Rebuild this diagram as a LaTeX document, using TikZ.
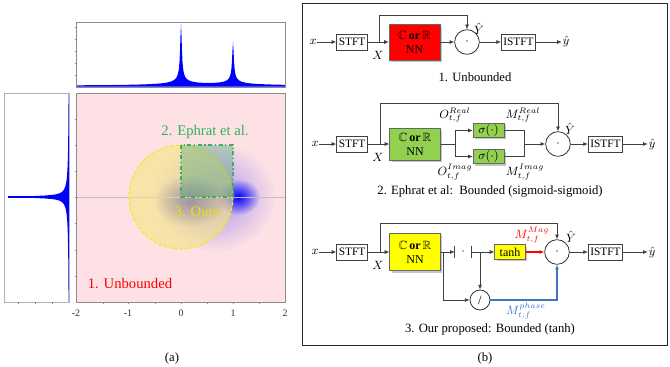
\documentclass[tikz,border=0pt]{standalone}
\usepackage{amssymb}
\usepackage{fontspec}
\setmainfont{Liberation Serif}
\usetikzlibrary{arrows.meta, positioning, calc, shadows, fadings}

\tikzfading[name=fuzzyblob, inner color=transparent!0, outer color=transparent!100]

\begin{document}
\begin{tikzpicture}[
    x=0.75pt, y=-0.75pt,
    >={Latex[length=3.5pt,width=3pt]},
    font=\fontsize{9.5}{11}\selectfont
]
\useasboundingbox (0,0) rectangle (670,367);

\definecolor{plotpink}{HTML}{FDE1E5}
\definecolor{oursfill}{HTML}{F5E682}
\definecolor{oursline}{HTML}{F2EA10}
\definecolor{ourstext}{HTML}{F0E010}
\definecolor{ephfill}{HTML}{3CA070}
\definecolor{ephline}{HTML}{3DB05A}
\definecolor{ephtext}{HTML}{2EB35A}
\definecolor{nnred}{HTML}{FF0000}
\definecolor{nngreen}{HTML}{92D050}
\definecolor{nnyellow}{HTML}{FFFF00}
\definecolor{magred}{HTML}{FF0000}
\definecolor{phaseblue}{HTML}{4472C4}
\definecolor{wire}{HTML}{404040}

\tikzset{
    frame/.style={draw=black!45, line width=0.5pt},
    tick/.style={draw=black!45, line width=0.4pt},
    ticklbl/.style={font=\fontsize{7.5}{9}\selectfont, text=black!80, inner sep=0pt},
    plotlbl/.style={font=\fontsize{11}{13}\selectfont, inner sep=0pt},
    blockbox/.style={
        rectangle,
        draw=black!75,
        line width=0.6pt,
        fill=white,
        font=\fontsize{8.5}{10}\selectfont,
        inner xsep=1.5pt,
        inner ysep=0pt,
        minimum height=12pt
    },
    nnbox/.style={
        rectangle,
        draw=black!60,
        line width=0.4pt,
        minimum width=38pt,
        minimum height=26pt,
        align=center,
        font=\fontsize{9}{10.5}\selectfont,
        drop shadow={shadow xshift=1.5pt, shadow yshift=-1.5pt, opacity=0.45}
    },
    actbox/.style={nnbox, minimum width=23pt, minimum height=10.5pt, inner sep=0pt},
    absbox/.style={minimum width=12pt, minimum height=9pt, inner sep=0pt},
    mult/.style={circle, draw=black!80, line width=0.6pt, minimum size=18.5pt, inner sep=0pt},
    arr/.style={->, draw=wire, line width=0.6pt},
    wireline/.style={draw=wire, line width=0.6pt},
    mlbl/.style={inner sep=0.5pt, font=\fontsize{9}{10}\selectfont}
}

% (a) top marginal
\fill[blue] (76,86) -- plot[domain=76:285, samples=419]
    (\x, {86 - 49/(1+min(abs(\x-181),100)^2) - 12*4/(4+abs(\x-181))
             - 33/(1+min(abs(\x-233),100)^2) - 10*4/(4+abs(\x-233))}) -- (285,86) -- cycle;
\draw[blue!70, line width=0.4pt] (76,86) -- (285,86);
\draw[frame] (76,22) rectangle (285,87);
\foreach \y in {27,39,51,63,75}
    \draw[tick] (74.5,\y) -- (76,\y);

% (a) left marginal
\fill[blue] (69,93) -- plot[domain=93:302, samples=419]
    ({69 - 49/(1+min(abs(\x-197),100)^2) - 12*4/(4+abs(\x-197))}, \x) -- (69,302) -- cycle;
\draw[blue, line width=0.9pt] (8,197) -- (69,197);
\draw[frame, draw=black!30] (4,93) rectangle (69,302);
\foreach \x in {18,35,52}
    \draw[tick] (\x,302) -- (\x,303.5);

% (a) main plane
\fill[plotpink] (76,93) rectangle (285,302);
\begin{scope}
    \clip (76,93) rectangle (285,302);
    \fill[blue, opacity=0.35, path fading=fuzzyblob] (214,197) ellipse [x radius=62, y radius=55];
    \fill[blue!80!black, opacity=0.85, path fading=fuzzyblob] (190,201) ellipse [x radius=36, y radius=26];
    \fill[blue, opacity=1, path fading=fuzzyblob] (238,197) ellipse [x radius=22, y radius=18];
\end{scope}
\draw[black!25, line width=0.3pt] (76,197) -- (285,197);

\fill[oursfill, opacity=0.6] (181,197) circle [radius=52];
\draw[oursline, line width=0.8pt, dash pattern=on 2.5pt off 1.5pt] (181,197) circle [radius=52];
\fill[ephfill, opacity=0.35] (181,145) rectangle (233,197);
\draw[ephline, line width=0.8pt, dash dot] (181,145) rectangle (233,197);

\draw[frame] (76,93) rectangle (285,302);
\foreach \y in {119,145,171,197,223,250,276}
    \draw[tick] (74.5,\y) -- (76,\y);
\foreach \x in {103,128,155,181,207,233,259}
    \draw[tick] (\x,302) -- (\x,303.5);
\foreach \v/\px in {-2/76,-1/128,0/181,1/233,2/285}
    \node[ticklbl] at (\px,313) {\v};

\node[plotlbl, text=ephtext] (lbleph) at (205,132) {2. Ephrat et al.};
\node[plotlbl, text=ourstext] (lblours) at (197,212) {3. Ours};
\node[plotlbl, text=red] (lblunb) at (130,284) {1. Unbounded};
\node (capa) at (172,358) {(a)};

% (b) frame
\draw[black!85, line width=0.6pt] (302,3) rectangle (667,345);
\node (capb) at (485,358) {(b)};

% 1. Unbounded
\node[mlbl] (xa) at (313,42) {$x$};
\node[blockbox] (stfta) at (352,42) {STFT};
\node[nnbox, fill=nnred, minimum height=27pt] (nna) at (414.5,42) {$\mathbb{C}$\,\textbf{or}\,$\mathbb{R}$\\NN};
\node[mult] (mula) at (467,42) {$\cdot$};
\node[blockbox] (istfta) at (518.5,42) {ISTFT};
\node[mlbl] (yha) at (566,42) {$\hat{y}$};
\node[mlbl] (Xa) at (378,55) {$X$};
\node[mlbl] (Yha) at (479,29) {$\hat{Y}$};
\coordinate (ja) at (379,42);
\coordinate (fa) at (379,15);
\node (capone) at (475,77) {1. Unbounded};

\draw[arr] (xa) -- (stfta);
\draw[arr] (stfta) -- (nna);
\draw[arr] (ja) -- (fa) -| (mula.north);
\draw[arr] (nna) -- (mula);
\draw[arr] (mula) -- (istfta);
\draw[arr] (istfta) -- (yha);

% 2. Ephrat et al
\node[mlbl] (xb) at (315,144) {$x$};
\node[blockbox] (stftb) at (352,144) {STFT};
\node[nnbox, fill=nngreen, minimum height=24pt] (nnb) at (415,144) {$\mathbb{C}$\,\textbf{or}\,$\mathbb{R}$\\NN};
\coordinate (bb) at (455,144);
\node[actbox, fill=nngreen] (sigr) at (488.5,130.5) {$\sigma(\cdot)$};
\node[actbox, fill=nngreen] (sigi) at (488.5,156.5) {$\sigma(\cdot)$};
\coordinate (jb) at (524,144);
\node[mult] (mulb) at (558,144) {$\cdot$};
\node[blockbox] (istftb) at (605.5,144) {ISTFT};
\node[mlbl] (yhb) at (652,144) {$\hat{y}$};
\coordinate (jxb) at (380,144);
\coordinate (fb) at (380,103);
\node[mlbl] (Xb) at (378,157) {$X$};
\node[mlbl] (Yhb) at (570,129) {$\hat{Y}$};
\node[mlbl] (ore) at (455,115) {$O_{t,f}^{Real}$};
\node[mlbl] (oim) at (455,172) {$O_{t,f}^{Imag}$};
\node[mlbl] (mre) at (523,115) {$M_{t,f}^{Real}$};
\node[mlbl] (mim) at (525,172) {$M_{t,f}^{Imag}$};
\node (captwo) at (490,191) {2. Ephrat et al:\ \ Bounded (sigmoid-sigmoid)};

\draw[arr] (xb) -- (stftb);
\draw[arr] (stftb) -- (nnb);
\draw[arr] (jxb) -- (fb) -| (mulb.north);
\draw[wireline] (nnb) -- (bb);
\draw[arr] (bb) |- (sigr);
\draw[arr] (bb) |- (sigi);
\draw[wireline] (sigr) -| (jb);
\draw[wireline] (sigi) -| (jb);
\draw[arr] (jb) -- (mulb);
\draw[arr] (mulb) -- (istftb);
\draw[arr] (istftb) -- (yhb);

% 3. Our proposed
\node[mlbl] (xc) at (315,252) {$x$};
\node[blockbox] (stftc) at (352,252) {STFT};
\node[nnbox, fill=nnyellow, minimum height=28pt] (nnc) at (415,252) {$\mathbb{C}$\,\textbf{or}\,$\mathbb{R}$\\NN};
\node[absbox] (absc) at (463,252) {$\cdot$};
\coordinate (bc) at (480,252);
\node[actbox, fill=nnyellow, minimum height=11pt] (tanhc) at (510,252) {tanh};
\node[mult, minimum size=15pt] (divc) at (480,300) {/};
\coordinate (dc) at (443,252);
\node[mult] (mulc) at (557,252) {$\cdot$};
\node[blockbox] (istftc) at (605.5,252) {ISTFT};
\node[mlbl] (yhc) at (652,252) {$\hat{y}$};
\coordinate (jxc) at (380,252);
\coordinate (fc) at (380,223);
\node[mlbl] (Xc) at (378,265) {$X$};
\node[mlbl] (Yhc) at (571,237) {$\hat{Y}$};
\node[mlbl, text=magred] (mmag) at (532,235) {$M_{t,f}^{Mag}$};
\node[mlbl, text=phaseblue] (mph) at (526,311) {$M_{t,f}^{phase}$};
\node (capthree) at (490,329) {3. Our proposed: Bounded (tanh)};

\draw[arr] (xc) -- (stftc);
\draw[arr] (stftc) -- (nnc);
\draw[arr] (jxc) -- (fc) -| (mulc.north);
\draw[arr] (nnc) -- (absc.west);
\draw[wireline, line width=0.8pt] (absc.north west) -- (absc.south west);
\draw[wireline, line width=0.8pt] (absc.north east) -- (absc.south east);
\draw[wireline] (absc.east) -- (bc);
\draw[arr] (bc) -- (tanhc);
\draw[arr] (bc) -- (divc);
\draw[arr] (dc) |- (divc);
\draw[arr, draw=magred, line width=0.9pt] (tanhc) -- (mulc);
\draw[arr, draw=phaseblue, line width=0.9pt] (divc) -| (mulc.south);
\draw[arr] (mulc) -- (istftc);
\draw[arr] (istftc) -- (yhc);

\end{tikzpicture}
\end{document}
